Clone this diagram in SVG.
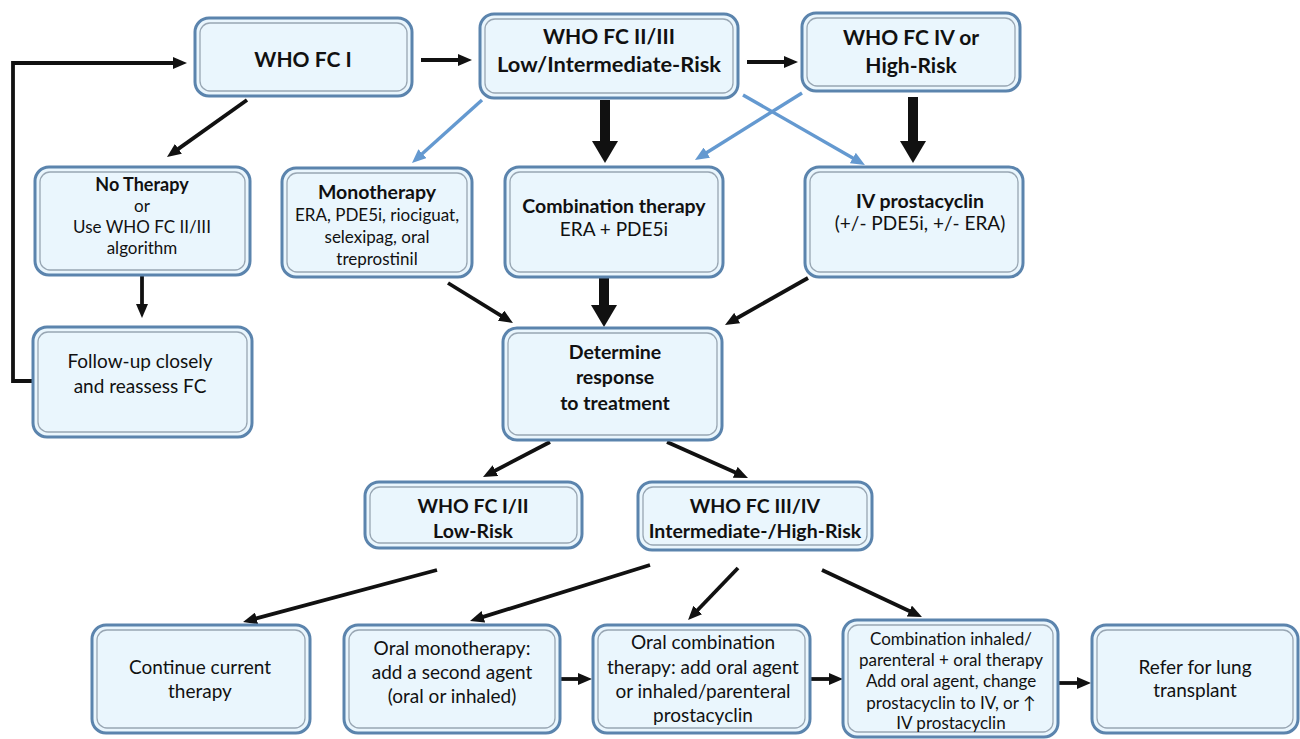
<svg xmlns="http://www.w3.org/2000/svg" width="1300" height="739" viewBox="0 0 1300 739">
<style>
.box{fill:#eaf6fd;stroke:#5b84ad;stroke-width:3}
.inner{fill:none;stroke:#98a6b3;stroke-width:1.3}
text{font-family:Lato,"Liberation Sans",sans-serif;fill:#111;text-anchor:middle}
.t{font-weight:bold;font-size:21px}
.b{font-weight:bold;font-size:19.5px}
.r{font-size:19px}
.s{font-size:17px}
.m{font-size:17px}
.k{stroke:#111;fill:none;stroke-width:3.8}
.kk{stroke:#111;fill:none;stroke-width:10}
.bl{stroke:#6499d0;fill:none;stroke-width:3.4}
</style>
<defs>
<marker id="ab" viewBox="0 0 14 12" markerWidth="14" markerHeight="12" refX="7" refY="6" orient="auto" markerUnits="userSpaceOnUse"><path d="M0,0 L14,6 L0,12 z" fill="#111"/></marker>
<marker id="aB" viewBox="0 0 22 26" markerWidth="22" markerHeight="26" refX="8" refY="13" orient="auto" markerUnits="userSpaceOnUse"><path d="M0,0 L22,13 L0,26 z" fill="#111"/></marker>
<marker id="abl" viewBox="0 0 14 12" markerWidth="14" markerHeight="12" refX="7" refY="6" orient="auto" markerUnits="userSpaceOnUse"><path d="M0,0 L14,6 L0,12 z" fill="#6499d0"/></marker>
</defs>
<g id="connectors">
<path class="k" d="M33,381 H13 V63 H180" marker-end="url(#ab)"/>
<path class="k" d="M421,60 L465,60" marker-end="url(#ab)" stroke-width="4"/>
<path class="k" d="M747,62 L791,62" marker-end="url(#ab)" stroke-width="4"/>
<path class="k" d="M247,100 L172.7,152.9" marker-end="url(#ab)"/>
<path class="k" d="M142,272 L142,311" marker-end="url(#ab)"/>
<path class="k" d="M448,283 L507,319.3" marker-end="url(#ab)"/>
<path class="k" d="M808,278 L731.1,321.5" marker-end="url(#ab)"/>
<path class="k" d="M550,442 L489.2,473.8" marker-end="url(#ab)"/>
<path class="k" d="M667,442 L741.6,475.2" marker-end="url(#ab)"/>
<path class="k" d="M437,570 L249.8,620.2" marker-end="url(#ab)"/>
<path class="k" d="M650,565 L476.7,618.9" marker-end="url(#ab)"/>
<path class="k" d="M738,568 L692.9,615" marker-end="url(#ab)"/>
<path class="k" d="M822,570 L915.7,614" marker-end="url(#ab)"/>
<path class="k" d="M560,679 L585,679" marker-end="url(#ab)" stroke-width="4"/>
<path class="k" d="M810,679 L836,679" marker-end="url(#ab)" stroke-width="4"/>
<path class="k" d="M1058,683 L1084,683" marker-end="url(#ab)" stroke-width="4"/>
<path class="kk" d="M605,100 L605,149" marker-end="url(#aB)"/>
<path class="kk" d="M913,97 L913,149" marker-end="url(#aB)"/>
<path class="kk" d="M604,277 L604,313" marker-end="url(#aB)" stroke-width="8"/>
<path class="bl" d="M482,100 L417.2,158.3" marker-end="url(#abl)"/>
<path class="bl" d="M743,95 L858.9,161.5" marker-end="url(#abl)"/>
<path class="bl" d="M802,93 L700.9,156.3" marker-end="url(#abl)"/>
</g>
<g id="n1"><rect class="box" x="195" y="18" width="217" height="78" rx="14"/><rect class="inner" x="200" y="23" width="207" height="68" rx="10"/>
<text class="t" x="303" y="67">WHO FC I</text></g>
<g id="n2"><rect class="box" x="480" y="14" width="258" height="84" rx="14"/><rect class="inner" x="485" y="19" width="248" height="74" rx="10"/>
<text class="t" x="609" y="44">WHO FC II/III</text><text class="t" x="609" y="72" textLength="224" lengthAdjust="spacingAndGlyphs">Low/Intermediate-Risk</text></g>
<g id="n3"><rect class="box" x="802" y="13" width="218" height="78" rx="14"/><rect class="inner" x="807" y="18" width="208" height="68" rx="10"/>
<text class="t" x="911" y="45">WHO FC IV or</text><text class="t" x="911" y="73">High-Risk</text></g>
<g id="n4"><rect class="box" x="35" y="167" width="215" height="108" rx="14"/><rect class="inner" x="40" y="172" width="205" height="98" rx="10"/>
<text class="b" x="142" y="191" font-size="18px" style="font-size:18px">No Therapy</text><text class="s" x="142" y="212">or</text><text class="s" x="142" y="233">Use WHO FC II/III</text><text class="s" x="142" y="254">algorithm</text></g>
<g id="n5"><rect class="box" x="282" y="168" width="190" height="109" rx="14"/><rect class="inner" x="287" y="173" width="180" height="99" rx="10"/>
<text class="b" x="377" y="199">Monotherapy</text><text class="s" x="377" y="221">ERA, PDE5i, riociguat,</text><text class="s" x="377" y="243">selexipag, oral</text><text class="s" x="377" y="265">treprostinil</text></g>
<g id="n6"><rect class="box" x="505" y="167" width="218" height="110" rx="14"/><rect class="inner" x="510" y="172" width="208" height="100" rx="10"/>
<text class="b" x="614" y="213">Combination therapy</text><text class="r" x="614" y="236">ERA + PDE5i</text></g>
<g id="n7"><rect class="box" x="805" y="167" width="218" height="110" rx="14"/><rect class="inner" x="810" y="172" width="208" height="100" rx="10"/>
<text class="b" x="920" y="208">IV prostacyclin</text><text class="r" x="920" y="230">(+/- PDE5i, +/- ERA)</text></g>
<g id="n8"><rect class="box" x="33" y="327" width="219" height="110" rx="14"/><rect class="inner" x="38" y="332" width="209" height="100" rx="10"/>
<text class="r" x="140" y="368">Follow-up closely</text><text class="r" x="140" y="393">and reassess FC</text></g>
<g id="n9"><rect class="box" x="503" y="328" width="219" height="112" rx="14"/><rect class="inner" x="508" y="333" width="209" height="102" rx="10"/>
<text class="b" x="615" y="359">Determine</text><text class="b" x="615" y="384">response</text><text class="b" x="615" y="410">to treatment</text></g>
<g id="n10"><rect class="box" x="365" y="482" width="217" height="66" rx="14"/><rect class="inner" x="370" y="487" width="207" height="56" rx="10"/>
<text class="b" x="473" y="513">WHO FC I/II</text><text class="b" x="473" y="538">Low-Risk</text></g>
<g id="n11"><rect class="box" x="638" y="482" width="234" height="68" rx="14"/><rect class="inner" x="643" y="487" width="224" height="58" rx="10"/>
<text class="b" x="755" y="513">WHO FC III/IV</text><text class="b" x="755" y="538">Intermediate-/High-Risk</text></g>
<g id="n12"><rect class="box" x="92" y="625" width="218" height="108" rx="14"/><rect class="inner" x="97" y="630" width="208" height="98" rx="10"/>
<text class="r" x="200" y="674">Continue current</text><text class="r" x="200" y="698">therapy</text></g>
<g id="n13"><rect class="box" x="344" y="625" width="216" height="108" rx="14"/><rect class="inner" x="349" y="630" width="206" height="98" rx="10"/>
<text class="r" x="452" y="655">Oral monotherapy:</text><text class="r" x="452" y="679">add a second agent</text><text class="r" x="452" y="703">(oral or inhaled)</text></g>
<g id="n14"><rect class="box" x="593" y="625" width="217" height="108" rx="14"/><rect class="inner" x="598" y="630" width="207" height="98" rx="10"/>
<text class="r" x="703" y="649">Oral combination</text><text class="r" x="703" y="674">therapy: add oral agent</text><text class="r" x="703" y="698">or inhaled/parenteral</text><text class="r" x="703" y="722">prostacyclin</text></g>
<g id="n15"><rect class="box" x="843" y="620" width="215" height="117" rx="14"/><rect class="inner" x="848" y="625" width="205" height="107" rx="10"/>
<text class="m" x="951" y="645">Combination inhaled/</text><text class="m" x="951" y="666">parenteral + oral therapy</text><text class="m" x="951" y="687">Add oral agent, change</text><text class="m" x="951" y="709">prostacyclin to IV, or ↑</text><text class="m" x="951" y="729">IV prostacyclin</text></g>
<g id="n16"><rect class="box" x="1092" y="625" width="206" height="108" rx="14"/><rect class="inner" x="1097" y="630" width="196" height="98" rx="10"/>
<text class="r" x="1195" y="674">Refer for lung</text><text class="r" x="1195" y="697">transplant</text></g>
</svg>
